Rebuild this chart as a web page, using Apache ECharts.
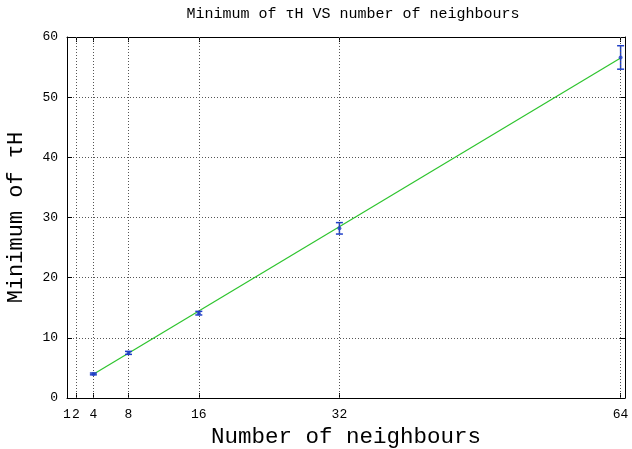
<!DOCTYPE html>
<html>
<head>
<meta charset="utf-8">
<script src="https://cdn.jsdelivr.net/npm/echarts@6/dist/echarts.min.js"></script>
<style>html,body{margin:0;padding:0;background:#fff}#c{width:632px;height:449px}</style>
</head>
<body>
<div id="c"></div>
<script>
// Data
var neighbours = [4, 8, 16, 32, 64];
var minTauH = [4.0, 7.5, 14.1, 28.2, 56.6];
var errTauH = [0.15, 0.25, 0.3, 0.95, 1.95];
var fitX = [4, 64];
var fitY = [3.95, 56.5];
var xTicks = [1, 2, 4, 8, 16, 32, 64];
var yTicks = [0, 10, 20, 30, 40, 50, 60];

var FONT = 'Liberation Mono';
var pts = neighbours.map(function (x, i) { return [x, minTauH[i]]; });
var errs = neighbours.map(function (x, i) { return [x, minTauH[i] - errTauH[i], minTauH[i] + errTauH[i]]; });
var fit = fitX.map(function (x, i) { return [x, fitY[i]]; });
var gridStyle = { color: '#555', type: [1, 2], width: 1 };

var chart = echarts.init(document.getElementById('c'), null, { renderer: 'canvas' });
chart.setOption({
  animation: false,
  backgroundColor: '#fff',
  title: {
    text: 'Minimum of τH VS number of neighbours',
    left: 348, top: 2, textAlign: 'center',
    textStyle: { fontFamily: FONT, fontSize: 15, fontWeight: 'normal', color: '#000' }
  },
  grid: { left: 67, right: 7, top: 37, bottom: 51, outerBoundsMode: 'none', containLabel: false },
  xAxis: [{
    type: 'value', min: 1, max: 64.5,
    name: 'Number of neighbours', nameLocation: 'middle', nameGap: 27,
    nameTextStyle: { fontFamily: FONT, fontSize: 22.5, color: '#000' },
    axisLine: { show: true, onZero: false, lineStyle: { color: '#000', width: 1 } },
    axisTick: { show: true, inside: true, length: 5, customValues: xTicks, lineStyle: { color: '#000' } },
    axisLabel: { customValues: xTicks, fontFamily: FONT, fontSize: 13, color: '#000', margin: 10 },
    splitLine: { show: false }
  }, {
    type: 'value', min: 1, max: 64.5, position: 'top',
    axisLine: { show: true, onZero: false, lineStyle: { color: '#000', width: 1 } },
    axisTick: { show: true, inside: true, length: 5, customValues: xTicks, lineStyle: { color: '#000' } },
    axisLabel: { show: false },
    splitLine: { show: false }
  }],
  yAxis: [{
    type: 'value', min: 0, max: 60, interval: 10,
    name: 'Minimum of τH', nameLocation: 'middle', nameGap: 40,
    nameTextStyle: { fontFamily: FONT, fontSize: 22, color: '#000' },
    axisLine: { show: true, onZero: false, lineStyle: { color: '#000', width: 1 } },
    axisTick: { show: true, inside: true, length: 5, lineStyle: { color: '#000' } },
    axisLabel: { fontFamily: FONT, fontSize: 13, color: '#000', margin: 9 },
    splitLine: { show: true, lineStyle: gridStyle }
  }, {
    type: 'value', min: 0, max: 60, interval: 10, position: 'right',
    axisLine: { show: true, onZero: false, lineStyle: { color: '#000', width: 1 } },
    axisTick: { show: true, inside: true, length: 5, lineStyle: { color: '#000' } },
    axisLabel: { show: false },
    splitLine: { show: false }
  }],
  series: [{
    type: 'line', data: fit, symbol: 'none', xAxisIndex: 0, yAxisIndex: 0,
    lineStyle: { color: '#2ec42e', width: 1.2 }, z: 3,
    markLine: {
      silent: true, symbol: 'none', label: { show: false },
      lineStyle: gridStyle,
      data: xTicks.slice(1).map(function (v) { return { xAxis: v }; })
    }
  }, {
    type: 'custom', xAxisIndex: 0, yAxisIndex: 0, data: errs, z: 4,
    renderItem: function (params, api) {
      var x = api.value(0);
      var lo = api.coord([x, api.value(1)]);
      var hi = api.coord([x, api.value(2)]);
      var w = 3.5;
      var st = { stroke: '#1f3fc8', lineWidth: 1.5 };
      return { type: 'group', children: [
        { type: 'line', shape: { x1: lo[0], y1: lo[1], x2: hi[0], y2: hi[1] }, style: st },
        { type: 'line', shape: { x1: lo[0] - w, y1: lo[1], x2: lo[0] + w, y2: lo[1] }, style: st },
        { type: 'line', shape: { x1: hi[0] - w, y1: hi[1], x2: hi[0] + w, y2: hi[1] }, style: st }
      ]};
    }
  }, {
    type: 'scatter', data: pts, xAxisIndex: 0, yAxisIndex: 0, z: 5,
    symbol: 'circle', symbolSize: 4,
    itemStyle: { color: '#1f3fc8' }
  }]
});
</script>
</body>
</html>
